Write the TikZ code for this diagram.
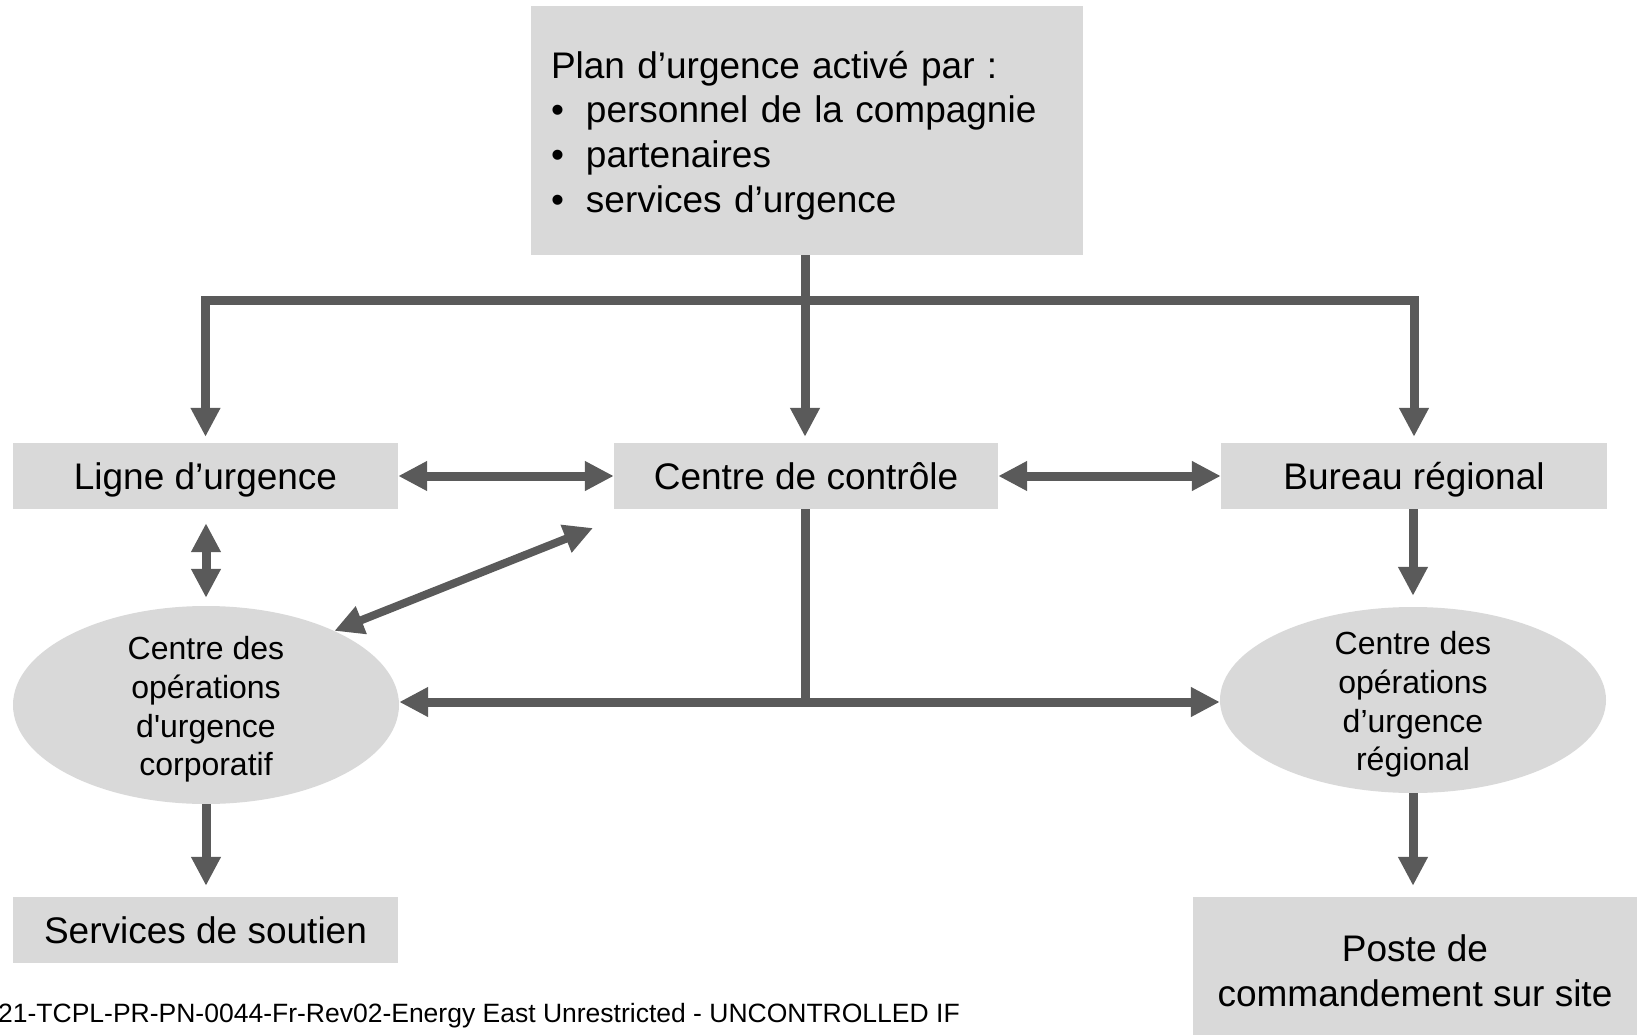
\documentclass[tikz,border=0pt]{standalone}
\usepackage{fontspec}
\setmainfont{Liberation Sans}
\usetikzlibrary{arrows.meta,shapes.geometric}
\definecolor{boxgray}{RGB}{217,217,217}
\definecolor{arrowgray}{RGB}{90,90,90}
\newcommand{\bitem}[1]{\makebox[35pt][l]{\textbullet}#1}

\tikzset{
	box/.style={fill=boxgray,inner sep=0pt,align=center,font=\fontsize{37}{45}\selectfont},
	oneline/.style={box,text height=26.5pt,text depth=0pt},
	boxtext/.style={inner sep=0pt,yshift=-5pt,font=\fontsize{37}{44.6}\selectfont},
	oval/.style={ellipse,fill=boxgray,inner sep=0pt,minimum width=386pt},
	ovaltext/.style={align=center,inner sep=0pt,yshift=-4.5pt,font=\fontsize{32}{38.6}\selectfont},
	link/.style={draw=arrowgray,line width=9pt},
	onearrow/.style={link,arrows={-Triangle[width=28pt,length=29pt]}},
	twoarrow/.style={link,arrows={Triangle[width=28pt,length=29pt]-Triangle[width=28pt,length=29pt]}}
}

\begin{document}
\begin{tikzpicture}[x=1pt,y=-1pt]
	\useasboundingbox (0,0) rectangle (1639,1035);
	\node[box,minimum width=552pt,minimum height=249pt,label={[boxtext,text width=512pt,align=left]center:Plan d’urgence activé par :\\ \bitem{personnel de la compagnie}\\ \bitem{partenaires}\\ \bitem{services d’urgence}}] (plan) at (807,130.5) {};

	\node[oneline,minimum width=385pt,minimum height=66pt] (ligne) at (205.5,476) {Ligne d’urgence};
	\node[oneline,minimum width=384pt,minimum height=66pt] (controle) at (806,476) {Centre de contrôle};
	\node[oneline,minimum width=386pt,minimum height=66pt] (bureau) at (1414,476) {Bureau régional};

	\node[oval,minimum height=198pt,label={[ovaltext]center:Centre des\\opérations\\d\textquotesingle urgence\\corporatif}] (corp) at (206,705) {};
	\node[oval,minimum height=186pt,label={[ovaltext]center:Centre des\\opérations\\d’urgence\\régional}] (regl) at (1413,700) {};

	\node[oneline,minimum width=385pt,minimum height=66pt] (soutien) at (205.5,930) {Services de soutien};
	\node[box,minimum width=444pt,minimum height=138pt,label={[boxtext,align=center]center:Poste de\\commandement sur site}] (poste) at (1415,966) {};

	\node[anchor=west,inner sep=0pt,font=\fontsize{26.5}{30}\selectfont] (pied) at (-2,1016) {21-TCPL-PR-PN-0044-Fr-Rev02-Energy East Unrestricted - UNCONTROLLED IF};

	% top distribution
	\coordinate (hub) at (805,300);
	\draw[link] (plan.south -| hub) -- (hub);
	\draw[onearrow,shorten >=6pt] (hub) -| (ligne.north);
	\draw[onearrow,shorten >=6pt] (hub) -| (bureau.north);
	\draw[onearrow,shorten >=6pt] (hub) -- (hub |- controle.north);

	% middle row
	\draw[twoarrow] (ligne) -- (controle);
	\draw[twoarrow] (controle) -- (bureau);
	\draw[twoarrow,shorten <=14pt,shorten >=8pt] (ligne.south -| corp.north) -- (corp.north);
	\coordinate (diagfin) at (593,528);
	\draw[twoarrow,line width=8pt] (corp.30) -- (diagfin);

	% lower distribution
	\coordinate (hubbas) at (805,702);
	\draw[link] (controle.south -| hubbas) -- (hubbas);
	\draw[onearrow] (hubbas) -- (hubbas -| corp.east);
	\draw[onearrow] (hubbas) -- (hubbas -| regl.west);

	\draw[onearrow,shorten >=11pt] (bureau.south -| regl.north) -- (regl.north);
	\draw[onearrow,shorten >=11pt] (regl.south) -- (regl.south |- poste.north);
	\draw[onearrow,shorten >=11pt] (corp.south) -- (corp.south |- soutien.north);
\end{tikzpicture}
\end{document}
